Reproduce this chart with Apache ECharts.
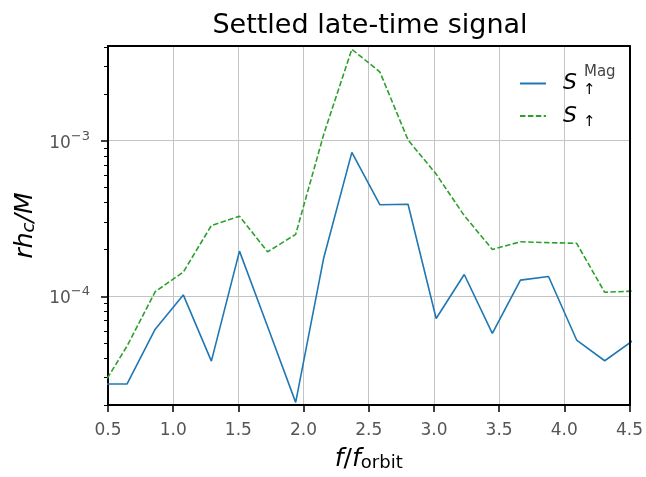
<!DOCTYPE html>
<html>
<head>
<meta charset="utf-8">
<script src="https://cdn.jsdelivr.net/npm/echarts@6/dist/echarts.min.js"></script>
<style>html,body{margin:0;padding:0;background:#fff}#c{width:646px;height:477px}</style>
</head>
<body>
<div id="c"></div>
<script>
// frequencies f/f_orbit
const freq = [0.431, 0.6465, 0.862, 1.0775, 1.293, 1.5085, 1.724, 1.9395, 2.155, 2.3705,
              2.586, 2.8015, 3.017, 3.2325, 3.448, 3.6635, 3.879, 4.0945, 4.31, 4.5255];
// S_up^Mag (blue, solid)
const sMag = [2.73e-5, 2.73e-5, 6.14e-5, 1.02e-4, 3.83e-5, 1.95e-4, 6.4e-5, 2.08e-5, 1.77e-4, 8.41e-4,
              3.87e-4, 3.9e-4, 7.19e-5, 1.38e-4, 5.77e-5, 1.27e-4, 1.34e-4, 5.23e-5, 3.85e-5, 5.18e-5];
// S_up (green, dashed)
const sUp = [2.43e-5, 4.79e-5, 1.07e-4, 1.43e-4, 2.85e-4, 3.27e-4, 1.93e-4, 2.5e-4, 1.1e-3, 3.87e-3,
             2.76e-3, 1.01e-3, 6.1e-4, 3.3e-4, 2.0e-4, 2.24e-4, 2.21e-4, 2.19e-4, 1.06e-4, 1.08e-4];
const yMajor = [1e-4, 1e-3];
const yMinor = [2e-5,3e-5,4e-5,5e-5,6e-5,7e-5,8e-5,9e-5,2e-4,3e-4,4e-4,5e-4,6e-4,7e-4,8e-4,9e-4,2e-3,3e-3,4e-3];
const yMin = 2.0e-5, yMax = 4.06e-3;

const FONT = 'DejaVu Sans';
const chart = echarts.init(document.getElementById('c'));
const pair = (xs, ys) => xs.map((x, i) => [x, ys[i]]);
const spine = {show: true, lineStyle: {color: '#000', width: 2}};

chart.setOption({
  animation: false,
  title: {
    text: 'Settled late-time signal',
    left: 365, top: 7, textAlign: 'center',
    textStyle: {fontFamily: FONT, fontSize: 27, fontWeight: 'normal', color: '#000'}
  },
  grid: {left: 108, right: 16, top: 46, bottom: 71, show: false},
  legend: {
    orient: 'vertical', left: 514, top: 60, itemWidth: 26, itemHeight: 12, itemGap: 3,
    itemStyle: {opacity: 0},
    data: ['mag', 'up'],
    formatter: n => n === 'mag' ? '{s|S}{sub|↑}{sup|Mag}' : '{s|S}{sub|↑}',
    textStyle: {
      fontFamily: FONT, color: '#000',
      rich: {
        s: {fontSize: 22, fontStyle: 'italic', fontFamily: FONT, lineHeight: 34, verticalAlign: 'middle', padding: [0,0,0,12]},
        sup: {fontSize: 15, fontFamily: FONT, color: '#444', verticalAlign: 'middle', lineHeight: 10, padding: [0,0,22,0]},
        sub: {fontSize: 15, fontFamily: FONT, color: '#000', verticalAlign: 'bottom', lineHeight: 10, width: 1, align: 'left', padding: [0,0,3,6]}
      }
    }
  },
  xAxis: [{
    type: 'value', min: 0.5, max: 4.5, interval: 0.5,
    name: '{i|f}{n|/}{i|f}{sub|orbit}', nameLocation: 'middle', nameGap: 42,
    nameTextStyle: {rich: {
      i: {fontFamily: FONT, fontStyle: 'italic', fontSize: 25, color: '#000'},
      n: {fontFamily: FONT, fontSize: 25, color: '#000'},
      sub: {fontFamily: FONT, fontSize: 18, color: '#000', verticalAlign: 'bottom', lineHeight: 14}
    }},
    axisLine: spine,
    axisTick: {show: true, inside: false, length: 7, lineStyle: {color: '#000', width: 1.5}},
    axisLabel: {fontFamily: FONT, fontSize: 17, color: '#555', margin: 17, formatter: v => v.toFixed(1)},
    splitLine: {show: true, lineStyle: {color: '#c4c4c4', width: 1}}
  }, {
    type: 'value', min: 0.5, max: 4.5, position: 'top', z: 10,
    axisLine: spine, axisTick: {show: false}, axisLabel: {show: false}, splitLine: {show: false}
  }],
  yAxis: [{
    type: 'log', logBase: 10, min: yMin, max: yMax,
    name: '{i|rh}{sub|c}{i|/M}', nameLocation: 'middle', nameGap: 60, nameRotate: 90,
    nameTextStyle: {rich: {
      i: {fontFamily: FONT, fontStyle: 'italic', fontSize: 25, color: '#000'},
      sub: {fontFamily: FONT, fontStyle: 'italic', fontSize: 18, color: '#000', verticalAlign: 'bottom', lineHeight: 14}
    }},
    axisLine: spine,
    axisTick: {show: true, length: 7, customValues: yMajor, lineStyle: {color: '#000', width: 1.5}},
    axisLabel: {
      customValues: yMajor, margin: 18,
      formatter: v => { const e = Math.round(Math.log10(v)); return '{b|10}{sup|' + (e < 0 ? '−' : '') + Math.abs(e) + '}'; },
      rich: {
        b: {fontFamily: FONT, fontSize: 17, color: '#555', lineHeight: 22, verticalAlign: 'bottom'},
        sup: {fontFamily: FONT, fontSize: 13, color: '#555', lineHeight: 12, verticalAlign: 'top'}
      }
    },
    splitLine: {show: true, lineStyle: {color: '#c4c4c4', width: 1}}
  }, {
    type: 'log', logBase: 10, min: yMin, max: yMax, position: 'left', offset: 0,
    axisLine: {show: false},
    axisTick: {show: true, length: 4, customValues: yMinor, lineStyle: {color: '#000', width: 1}},
    axisLabel: {show: false},
    splitLine: {show: false}
  }, {
    type: 'log', logBase: 10, min: yMin, max: yMax, position: 'right', offset: 0, z: 10,
    axisLine: spine, axisTick: {show: false}, axisLabel: {show: false}, splitLine: {show: false}
  }],
  series: [{
    name: 'mag', type: 'line', yAxisIndex: 0, data: pair(freq, sMag), symbol: 'none',
    lineStyle: {color: '#1f77b4', width: 1.6}, itemStyle: {color: '#1f77b4'}, clip: true
  }, {
    name: 'up', type: 'line', yAxisIndex: 0, data: pair(freq, sUp), symbol: 'none',
    lineStyle: {color: '#2ca02c', width: 1.6, type: [5.5, 2.4]}, itemStyle: {color: '#2ca02c'}, clip: true
  }]
});
</script>
</body>
</html>
